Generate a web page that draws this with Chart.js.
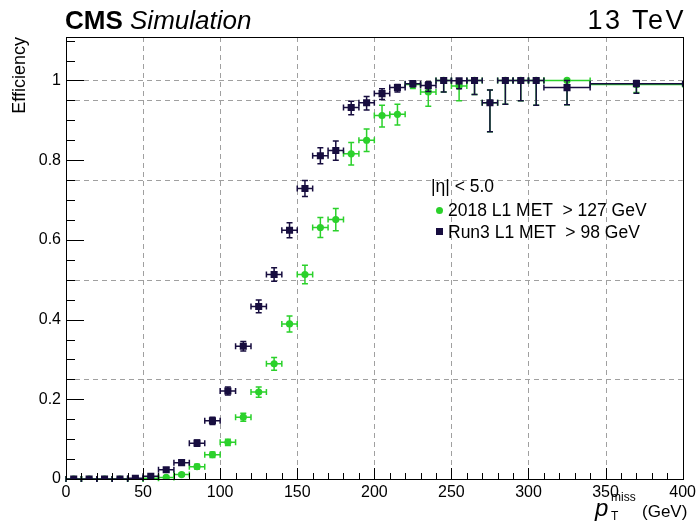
<!DOCTYPE html>
<html>
<head>
<meta charset="utf-8">
<script src="https://cdn.jsdelivr.net/npm/chart.js@4.4.1/dist/chart.umd.min.js"></script>
<style>
body { margin: 0; background: #fff; font-family: 'Liberation Sans', Arial, sans-serif; }
#wrap { position: relative; width: 700px; height: 524px; }
.txt { position: absolute; white-space: pre; color: #000; line-height: 1; }
.mk { position: absolute; }
</style>
</head>
<body>
<div id="wrap">
  <canvas id="chart" width="700" height="524"></canvas>
  <div class="txt" style="left:65px;top:7px;font-size:26px"><b>CMS</b> <i>Simulation</i></div>
  <div class="txt" style="right:14px;top:7px;font-size:27px;letter-spacing:2.5px">13 TeV</div>
  <div class="txt" style="left:431px;top:178px;font-size:17.5px">|η| &lt; 5.0</div>
  <div class="mk" style="left:436px;top:207px;width:7px;height:7px;border-radius:50%;background:#2bd12b"></div>
  <div class="txt" style="left:448px;top:202px;font-size:17.5px">2018 L1 MET  &gt; 127 GeV</div>
  <div class="mk" style="left:436px;top:228px;width:7px;height:7px;background:#170d3f"></div>
  <div class="txt" style="left:448px;top:224px;font-size:17.5px">Run3 L1 MET  &gt; 98 GeV</div>
  <div class="txt" style="left:595px;top:496px;font-size:24px;font-style:italic">p</div>
  <div class="txt" style="left:611px;top:491px;font-size:12px">miss</div>
  <div class="txt" style="left:611px;top:510px;font-size:12px">T</div>
  <div class="txt" style="left:642px;top:503px;font-size:17px">(GeV)</div>
</div>
<script>
// bin centres and half widths (GeV)
var binCenters = [5, 15, 25, 35, 45, 55, 65, 75, 85, 95, 105, 115, 125, 135, 145, 155, 165, 175, 185, 195, 205, 215, 225, 235, 245, 255, 265, 275, 285, 295, 305, 325, 370];
var binHalfWidth = [5, 5, 5, 5, 5, 5, 5, 5, 5, 5, 5, 5, 5, 5, 5, 5, 5, 5, 5, 5, 5, 5, 5, 5, 5, 5, 5, 5, 5, 5, 5, 15, 30];

// 2018 L1 MET > 127 GeV
var eff2018 = [0, 0, 0, 0, 0, 0.002, 0.004, 0.011, 0.031, 0.061, 0.092, 0.155, 0.218, 0.289, 0.389, 0.513, 0.631, 0.651, 0.816, 0.85, 0.912, 0.915, 0.99, 0.971, 1.0, 0.986, 1.0, 0.944, 1.0, 1.0, 1.0, 1.0, 0.99];
var err2018Lo = [0, 0, 0, 0, 0, 0.002, 0.003, 0.004, 0.006, 0.007, 0.008, 0.01, 0.013, 0.016, 0.02, 0.023, 0.025, 0.028, 0.028, 0.028, 0.029, 0.027, 0.01, 0.036, 0.029, 0.037, 0.035, 0.073, 0.06, 0.051, 0.062, 0.061, 0.02];
var err2018Hi = [0, 0, 0, 0, 0, 0.003, 0.003, 0.004, 0.006, 0.007, 0.008, 0.01, 0.013, 0.016, 0.02, 0.023, 0.025, 0.028, 0.028, 0.028, 0.026, 0.025, 0.007, 0.025, 0, 0.01, 0, 0.032, 0, 0, 0, 0, 0.008];

// Run3 L1 MET > 98 GeV
var effRun3 = [0, 0, 0, 0, 0.002, 0.007, 0.023, 0.041, 0.09, 0.146, 0.221, 0.333, 0.433, 0.513, 0.624, 0.729, 0.811, 0.824, 0.932, 0.944, 0.967, 0.982, 0.992, 0.987, 1.0, 0.999, 1.0, 0.944, 1.0, 1.0, 1.0, 0.982, 0.992];
var errRun3Lo = [0, 0, 0, 0, 0.002, 0.003, 0.005, 0.006, 0.008, 0.009, 0.01, 0.012, 0.016, 0.017, 0.019, 0.02, 0.02, 0.024, 0.018, 0.018, 0.015, 0.011, 0.008, 0.015, 0.029, 0.02, 0.035, 0.073, 0.06, 0.051, 0.062, 0.043, 0.024];
var errRun3Hi = [0, 0, 0, 0, 0.003, 0.004, 0.005, 0.006, 0.008, 0.009, 0.01, 0.012, 0.016, 0.017, 0.019, 0.02, 0.02, 0.024, 0.016, 0.016, 0.012, 0.008, 0.005, 0.01, 0, 0.001, 0, 0.032, 0, 0, 0, 0.018, 0.008];

var yTicks = [0, 0.2, 0.4, 0.6, 0.8, 1];
var xTicks = [0, 50, 100, 150, 200, 250, 300, 350, 400];
var yGridLines = [0.25, 0.5, 0.75, 0.95, 1.0];
var xGridLines = [50, 100, 150, 200, 250, 300, 350];

function points(vals) {
    return binCenters.map(function (x, i) { return { x: x, y: vals[i] }; });
}

// dashed grid, drawn under the markers
var gridLines = {
    id: 'gridLines',
    beforeDatasetsDraw: function (chart) {
        var c = chart.ctx, a = chart.chartArea, xs = chart.scales.x, ys = chart.scales.y;
        c.save();
        c.strokeStyle = '#a0a0a0';
        c.lineWidth = 1;
        c.setLineDash([5, 4]);
        xGridLines.forEach(function (v) {
            var px = Math.round(xs.getPixelForValue(v)) + 0.5;
            c.beginPath(); c.moveTo(px, a.top); c.lineTo(px, a.bottom); c.stroke();
        });
        yGridLines.forEach(function (v) {
            var py = Math.round(ys.getPixelForValue(v)) + 0.5;
            c.beginPath(); c.moveTo(a.left, py); c.lineTo(a.right, py); c.stroke();
        });
        c.restore();
    }
};

// error bars with end caps, drawn before each dataset's markers
var errorBars = {
    id: 'errorBars',
    beforeDatasetDraw: function (chart, args) {
        var ds = chart.data.datasets[args.index];
        var c = chart.ctx, xs = chart.scales.x, ys = chart.scales.y;
        var cap = 3;
        c.save();
        c.strokeStyle = ds.borderColor;
        c.lineWidth = 1.5;
        ds.data.forEach(function (p, i) {
            var px = xs.getPixelForValue(p.x), py = ys.getPixelForValue(p.y);
            var xl = xs.getPixelForValue(p.x - binHalfWidth[i]);
            var xr = xs.getPixelForValue(p.x + binHalfWidth[i]);
            c.beginPath();
            c.moveTo(xl, py); c.lineTo(xr, py);
            c.moveTo(xl, py - cap); c.lineTo(xl, py + cap);
            c.moveTo(xr, py - cap); c.lineTo(xr, py + cap);
            var lo = ds.errLo[i], hi = ds.errHi[i];
            if (lo > 0 || hi > 0) {
                var yb = ys.getPixelForValue(p.y - lo), yt = ys.getPixelForValue(p.y + hi);
                c.moveTo(px, yb); c.lineTo(px, yt);
                if (lo > 0) { c.moveTo(px - cap, yb); c.lineTo(px + cap, yb); }
                if (hi > 0) { c.moveTo(px - cap, yt); c.lineTo(px + cap, yt); }
            }
            c.stroke();
        });
        c.restore();
    }
};

// frame and inward ROOT-style ticks
var frameTicks = {
    id: 'frameTicks',
    afterDatasetsDraw: function (chart) {
        var c = chart.ctx, a = chart.chartArea, xs = chart.scales.x, ys = chart.scales.y;
        c.save();
        c.strokeStyle = '#000';
        c.lineWidth = 1;
        c.beginPath();
        for (var v = 0; v <= 400.001; v += 10) {
            var px = Math.round(xs.getPixelForValue(v)) + 0.5;
            var len = (Math.round(v) % 50 === 0) ? 11 : 6;
            c.moveTo(px, a.bottom); c.lineTo(px, a.bottom - len);
        }
        for (var k = 0; k <= 22; k++) {
            var py = Math.round(ys.getPixelForValue(k * 0.05)) + 0.5;
            var l = (k % 4 === 0) ? 18 : 9;
            c.moveTo(a.left, py); c.lineTo(a.left + l, py);
        }
        c.stroke();
        c.strokeRect(Math.round(a.left) + 0.5, Math.round(a.top) + 0.5, Math.round(a.right - a.left), Math.round(a.bottom - a.top));
        c.restore();
    }
};

var ctx = document.getElementById('chart').getContext('2d');
var chart = new Chart(ctx, {
    type: 'scatter',
    data: {
        datasets: [{
            label: 'Run3 L1 MET  > 98 GeV',
            data: points(effRun3),
            errLo: errRun3Lo,
            errHi: errRun3Hi,
            pointStyle: 'rect',
            pointRadius: 5,
            backgroundColor: '#170d3f',
            borderColor: '#170d3f',
            borderWidth: 0
        }, {
            label: '2018 L1 MET  > 127 GeV',
            data: points(eff2018),
            errLo: err2018Lo,
            errHi: err2018Hi,
            pointStyle: 'circle',
            pointRadius: 3.6,
            backgroundColor: '#2bd12b',
            borderColor: '#2bd12b',
            borderWidth: 0
        }]
    },
    options: {
        responsive: false,
        animation: false,
        layout: { padding: { left: 0, top: 37, right: 15, bottom: 0 } },
        plugins: { legend: { display: false }, tooltip: { enabled: false } },
        scales: {
            x: {
                type: 'linear',
                min: 0,
                max: 400,
                grid: { display: false, drawTicks: false },
                border: { display: false },
                afterBuildTicks: function (scale) { scale.ticks = xTicks.map(function (v) { return { value: v }; }); },
                afterFit: function (scale) { scale.height = 45; },
                ticks: { color: '#000', padding: 4, maxRotation: 0, font: { family: 'Liberation Sans', size: 16 } }
            },
            y: {
                type: 'linear',
                min: 0,
                max: 1.109,
                grid: { display: false, drawTicks: false },
                border: { display: false },
                afterBuildTicks: function (scale) { scale.ticks = yTicks.map(function (v) { return { value: v }; }); },
                afterFit: function (scale) { scale.width = 66; },
                ticks: {
                    color: '#000',
                    padding: 5,
                    font: { family: 'Liberation Sans', size: 16 },
                    callback: function (value) { return String(+value.toFixed(1)); }
                },
                title: {
                    display: true,
                    text: 'Efficiency',
                    align: 'end',
                    color: '#000',
                    padding: { top: 9, bottom: 0 },
                    font: { family: 'Liberation Sans', size: 18 }
                }
            }
        }
    },
    plugins: [gridLines, errorBars, frameTicks]
});
</script>
</body>
</html>
